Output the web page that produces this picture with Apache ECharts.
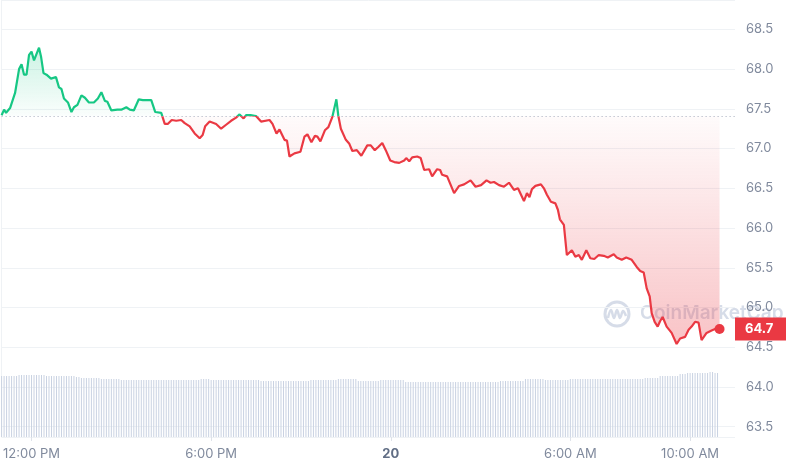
<!DOCTYPE html>
<html>
<head>
<meta charset="utf-8">
<script src="https://cdn.jsdelivr.net/npm/echarts@6/dist/echarts.min.js"></script>
<style>
  html, body { margin: 0; padding: 0; background: #fff; }
  #app { width: 786px; height: 470px; }
</style>
</head>
<body>
<div id="app"></div>
<script>
// minutes since 11:00 AM (day 19), price in USD
var priceMinutes = [
  0, 5, 9, 17, 27, 35, 40, 45, 50, 55, 60, 65, 69, 75, 79, 84, 90, 99, 109, 115,
  120, 125, 133, 140, 145, 152, 160, 167, 175, 185, 193, 200, 207, 212, 220, 232, 240, 250, 257, 265,
  275, 283, 300, 308, 320, 327, 333, 341, 350, 360, 367, 377, 387, 397, 403, 408, 417, 430, 440, 450,
  460, 470, 477, 485, 490, 499, 503, 510, 520, 537, 543, 551, 557, 567, 572, 577, 587, 599, 607, 613,
  621, 628, 633, 639, 648, 655, 663, 671, 675, 680, 690, 697, 703, 712, 721, 733, 740, 748, 755, 763,
  770, 779, 787, 797, 807, 811, 817, 823, 833, 840, 847, 857, 863, 873, 879, 883, 893, 907, 917, 927,
  940, 950, 961, 972, 980, 987, 997, 1007, 1017, 1027, 1035, 1047, 1053, 1058, 1063, 1070, 1081, 1087, 1093, 1101,
  1110, 1115, 1119, 1127, 1133, 1143, 1150, 1157, 1163, 1172, 1180, 1188, 1197, 1207, 1215, 1227, 1233, 1243, 1252, 1263,
  1273, 1280, 1287, 1293, 1299, 1303, 1309, 1315, 1320, 1325, 1333, 1343, 1353, 1360, 1370, 1377, 1383, 1390, 1397, 1403,
  1413, 1423, 1430, 1439
];
var priceValues = [
  67.42, 67.49, 67.45, 67.51, 67.70, 68.00, 68.06, 67.93, 67.93, 68.18, 68.22, 68.11, 68.11, 68.27, 68.16, 67.95, 67.93, 67.88, 67.90, 67.77,
  67.75, 67.63, 67.58, 67.46, 67.52, 67.55, 67.67, 67.64, 67.58, 67.58, 67.63, 67.71, 67.60, 67.59, 67.48, 67.49, 67.49, 67.52, 67.49, 67.48,
  67.62, 67.61, 67.61, 67.46, 67.45, 67.31, 67.31, 67.36, 67.35, 67.36, 67.32, 67.28, 67.19, 67.13, 67.17, 67.28, 67.34, 67.31, 67.25, 67.30,
  67.35, 67.39, 67.43, 67.38, 67.42, 67.42, 67.43, 67.41, 67.34, 67.36, 67.31, 67.19, 67.24, 67.11, 67.10, 66.90, 66.94, 66.96, 67.15, 67.18,
  67.08, 67.16, 67.15, 67.09, 67.23, 67.27, 67.40, 67.62, 67.41, 67.25, 67.11, 67.06, 66.97, 66.98, 66.91, 67.04, 67.04, 66.98, 67.02, 67.07,
  66.98, 66.85, 66.83, 66.82, 66.85, 66.88, 66.84, 66.89, 66.90, 66.88, 66.73, 66.74, 66.65, 66.74, 66.73, 66.67, 66.65, 66.44, 66.53, 66.55,
  66.60, 66.52, 66.54, 66.60, 66.57, 66.58, 66.54, 66.52, 66.57, 66.48, 66.50, 66.34, 66.44, 66.39, 66.49, 66.53, 66.55, 66.50, 66.42, 66.33,
  66.31, 66.23, 66.11, 66.04, 65.66, 65.72, 65.64, 65.66, 65.60, 65.72, 65.62, 65.61, 65.66, 65.65, 65.63, 65.67, 65.63, 65.60, 65.63, 65.60,
  65.51, 65.46, 65.44, 65.24, 65.14, 64.93, 64.82, 64.76, 64.83, 64.88, 64.76, 64.68, 64.54, 64.61, 64.63, 64.72, 64.76, 64.82, 64.81, 64.59,
  64.68, 64.71, 64.73, 64.73
];
var baselinePrice = 67.41;

// volume bars, one per 5 minutes
var volumeStepMinutes = 5;
var volumeValues = [
  61, 61, 61, 61, 61, 61, 61, 62, 62, 62, 62, 62, 62, 62, 62, 62, 62, 62,
  61, 61, 61, 61, 61, 61, 61, 61, 61, 61, 61, 61, 60, 60,
  59, 59, 59, 59, 59, 59, 59, 59, 58, 58, 58, 58, 58, 58, 58, 58,
  57, 57, 57, 57, 57, 57, 57, 57, 57, 57, 57, 57, 57, 57, 57, 57,
  57, 57, 57, 57, 57, 57, 57, 57, 57, 57, 57, 57, 57, 57, 57, 57,
  58, 58, 58, 58,
  57, 57, 57, 57, 57, 57, 57, 57, 57, 57, 57, 57, 57, 57, 57, 57, 57, 57, 57, 57,
  56, 56, 56, 56, 56, 56, 56, 56, 56, 56, 56, 56, 56, 56, 56, 56, 56, 56, 56, 56,
  57, 57, 57, 57, 57, 57, 57, 57, 57, 57, 57,
  58, 58, 58, 58, 58, 58, 58, 58,
  56, 56, 56, 56, 56, 56, 56, 56, 56,
  57, 57, 57, 57, 57, 57, 57, 57, 57, 57,
  55, 55, 55, 55, 55, 55, 55, 55, 55, 55, 55, 55, 55, 55, 55, 55, 55, 55, 55,
  55, 55, 55, 55, 55, 55, 55, 55, 55, 55, 55, 55, 55, 55, 55, 55, 55, 55, 55,
  56, 56, 56, 56, 56, 56, 56, 56, 56, 56,
  58, 58, 58, 58, 58, 58, 58, 58,
  57, 57, 57, 57, 57, 57, 57, 57, 57, 57,
  58, 58, 58, 58, 58, 58, 58, 58, 58, 58, 58, 58, 58, 58, 58,
  58, 58, 58, 58, 58, 58, 58, 58, 58, 58, 58, 58, 58, 58, 58,
  59, 59, 59, 59, 59, 59,
  61, 61, 61, 61, 61, 61, 61, 61,
  63, 63, 63, 64, 64, 64, 64, 64, 64, 64, 64, 64, 65, 65, 64, 64
];
var volumeAxisMax = 437;

var xTickMinutes = [60, 420, 780, 1140, 1380];
var xTickLabels = ['12:00 PM', '6:00 PM', '20', '6:00 AM', '10:00 AM'];
var xMaxMinutes = 1470;
var yAxisMin = 63.37;
var yAxisMax = 68.87;

var upColor = '#16c784';
var downColor = '#ea3943';
var labelColor = '#808a9d';
var gridColor = '#eff2f5';
var markColor = 'rgba(200,208,224,0.75)';

var priceData = priceMinutes.map(function (m, i) { return [m, priceValues[i]]; });
var volumeData = volumeValues.map(function (v, i) { return [i * volumeStepMinutes, v]; });
var lastMinute = priceMinutes[priceMinutes.length - 1];
var lastPrice = priceValues[priceValues.length - 1];

var hi = Math.max.apply(null, priceValues);
var lo = Math.min.apply(null, priceValues);
var cut = (hi - baselinePrice) / (hi - lo);

var chart = echarts.init(document.getElementById('app'));

chart.setOption({
  animation: false,
  textStyle: { fontFamily: 'Inter' },
  grid: { left: 0, right: 51, top: 0, bottom: 33 },
  visualMap: {
    show: false,
    type: 'piecewise',
    seriesIndex: 0,
    dimension: 1,
    pieces: [
      { gte: 0, lte: baselinePrice, color: downColor },
      { gt: baselinePrice, lte: 1000, color: upColor }
    ]
  },
  xAxis: {
    type: 'value',
    min: 0,
    max: xMaxMinutes,
    axisLine: { show: false },
    splitLine: { show: false },
    axisTick: {
      show: true,
      customValues: xTickMinutes,
      length: 4,
      lineStyle: { color: '#dfe3ea' }
    },
    axisLabel: {
      customValues: xTickMinutes,
      color: labelColor,
      fontSize: 13,
      margin: 11,
      formatter: function (v) {
        var i = xTickMinutes.indexOf(v);
        if (i < 0) return '';
        var t = xTickLabels[i];
        return /^\d+$/.test(t) ? '{d|' + t + '}' : t;
      },
      rich: {
        d: { fontWeight: 'bold', color: '#616e85', fontSize: 13, fontFamily: 'Inter' }
      }
    }
  },
  yAxis: [{
    type: 'value',
    position: 'right',
    min: yAxisMin,
    max: yAxisMax,
    splitNumber: 11,
    axisLine: { show: true, lineStyle: { color: gridColor } },
    axisTick: { show: false },
    splitLine: { lineStyle: { color: gridColor } },
    axisLabel: {
      showMinLabel: false,
      showMaxLabel: false,
      color: labelColor,
      fontSize: 13,
      margin: 11,
      formatter: function (v) { return v.toFixed(1); }
    }
  }, {
    type: 'value',
    min: 0,
    max: volumeAxisMax,
    show: false
  }],
  graphic: [{
    type: 'circle',
    z: 0,
    silent: true,
    shape: { cx: 617, cy: 314, r: 12 },
    style: { fill: 'none', stroke: markColor, lineWidth: 3 }
  }, {
    type: 'polyline',
    z: 0,
    silent: true,
    shape: { points: [[608, 318], [611, 310], [614, 318], [617, 310], [620, 318], [623, 311], [626, 316]], smooth: 0.4 },
    style: { fill: 'none', stroke: markColor, lineWidth: 2.5 }
  }, {
    type: 'text',
    z: 0,
    silent: true,
    left: 640,
    top: 304,
    style: { text: 'CoinMarketCap', fontSize: 19, fontWeight: 600, fill: markColor, fontFamily: 'Inter' }
  }],
  series: [{
    type: 'line',
    data: priceData,
    showSymbol: false,
    lineStyle: { width: 2.2 },
    z: 3,
    areaStyle: {
      origin: baselinePrice,
      opacity: 1,
      color: new echarts.graphic.LinearGradient(0, 0, 0, 1, [
        { offset: 0, color: 'rgba(22,199,132,0.22)' },
        { offset: cut, color: 'rgba(22,199,132,0.02)' },
        { offset: cut, color: 'rgba(234,57,67,0.02)' },
        { offset: 1, color: 'rgba(234,57,67,0.30)' }
      ])
    },
    markLine: {
      silent: true,
      symbol: ['none', 'none'],
      z: 10,
      data: [{
        yAxis: baselinePrice,
        lineStyle: { color: '#a6adbd', width: 1, type: [1, 3] },
        label: { show: false }
      }, {
        yAxis: lastPrice,
        lineStyle: { color: 'rgba(0,0,0,0)', width: 1 },
        label: {
          show: true,
          position: 'end',
          distance: 0,
          formatter: lastPrice.toFixed(1),
          backgroundColor: downColor,
          color: '#fff',
          fontWeight: 'bold',
          fontSize: 13,
          fontFamily: 'Inter',
          padding: [5, 14, 5, 10]
        }
      }]
    },
    markPoint: {
      silent: true,
      symbol: 'circle',
      symbolSize: 10,
      itemStyle: { color: downColor },
      label: { show: false },
      data: [{ coord: [lastMinute, lastPrice] }]
    }
  }, {
    type: 'bar',
    yAxisIndex: 1,
    data: volumeData,
    barWidth: 1,
    silent: true,
    z: 1,
    itemStyle: { color: '#c9d2e2' }
  }]
});
</script>
</body>
</html>
